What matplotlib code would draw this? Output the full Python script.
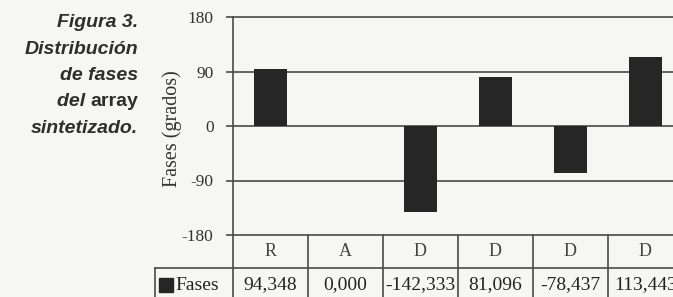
"""
Figura 3: distribucion de fases del array sintetizado (bar chart + data table).
"""

import matplotlib.pyplot as plt
from matplotlib import transforms

plt.rcParams["axes.unicode_minus"] = False

# data
categories = ["R", "A", "D", "D", "D", "D"]
fases = [94.348, 0.000, -142.333, 81.096, -78.437, 113.443]
yticks = [-180, -90, 0, 90, 180]
series_name = "Fases"

caption = ["Figura 3.", "Distribución", "de fases", "del array", "sintetizado."]

bg = "#f6f6f4"
ink = "#262626"
line_c = "#4a4a4a"
serif = ["Liberation Serif", "DejaVu Serif"]

fig = plt.figure(figsize=(6.73, 2.97), dpi=100, facecolor=bg)
ax = fig.add_axes([233 / 673, 62 / 297, 450 / 673, 218 / 297])
ax.set_facecolor(bg)

x = list(range(len(categories)))
ax.bar(x, fases, width=0.44, color=ink, zorder=3)

ax.set_xlim(-0.5, 5.5)
ax.set_ylim(-180, 180)
ax.set_xticks([])
ax.set_yticks(yticks)
ax.tick_params(axis="y", length=5, width=1.2, color=line_c, pad=9,
               labelsize=12.5, labelcolor="#333333")
for lab in ax.get_yticklabels():
    lab.set_family(serif)
for s in ["top", "right", "bottom"]:
    ax.spines[s].set_visible(False)
ax.spines["left"].set_color(line_c)
ax.spines["left"].set_linewidth(1.2)

for t in yticks:
    ax.axhline(t, color=line_c, lw=1.2, zorder=2, clip_on=False)

ax.set_ylabel("Fases (grados)", family=serif, fontsize=14.5, color="#333333")
ax.yaxis.set_label_coords(-51 / 450, 0.49)

# data table under the axis
tr = transforms.blended_transform_factory(ax.transData, ax.transAxes)
row_h = 33 / 218
left_cell = -0.5 - 78 / 75
bottom = -0.32
val_y = -50 / 218
for i in range(len(categories) + 1):
    ax.plot([i - 0.5, i - 0.5], [0, bottom], color=line_c, lw=1.2,
            transform=tr, clip_on=False)
ax.plot([left_cell, 5.5], [-row_h, -row_h], color=line_c, lw=1.2,
        transform=tr, clip_on=False)
ax.plot([left_cell, left_cell], [-row_h, bottom], color=line_c, lw=1.2,
        transform=tr, clip_on=False)

for i, (c, v) in enumerate(zip(categories, fases)):
    ax.text(i, -row_h / 2, c, transform=tr, ha="center", va="center",
            family=serif, fontsize=13, color="#444444", clip_on=False)
    ax.text(i, val_y, f"{v:.3f}".replace(".", ","), transform=tr,
            ha="center", va="center", family=serif, fontsize=14,
            color="#222222", clip_on=False)

ax.plot([-1.4], [val_y], marker="s", ms=10.5, color=ink,
        transform=tr, clip_on=False)
ax.text(-1.27, val_y, series_name, transform=tr,
        ha="left", va="center", family=serif, fontsize=14, color="#222222",
        clip_on=False)

# caption on the left
cap_font = dict(family=["Liberation Sans", "DejaVu Sans"], fontsize=14,
                fontweight="bold", color="#2e2e2e")
x_right = 138 / 673
renderer = fig.canvas.get_renderer()
for k, line in enumerate(caption):
    yb = 1 - (27 + 26.5 * k) / 297
    if line == "del array":
        t = fig.text(x_right, yb, "array", ha="right", va="baseline", **cap_font)
        w = t.get_window_extent(renderer).width / fig.bbox.width
        fig.text(x_right - w, yb, "del ", ha="right", va="baseline",
                 style="italic", **cap_font)
    else:
        fig.text(x_right, yb, line, ha="right", va="baseline",
                 style="italic", **cap_font)

fig.savefig("out.png", dpi=100, facecolor=bg)
